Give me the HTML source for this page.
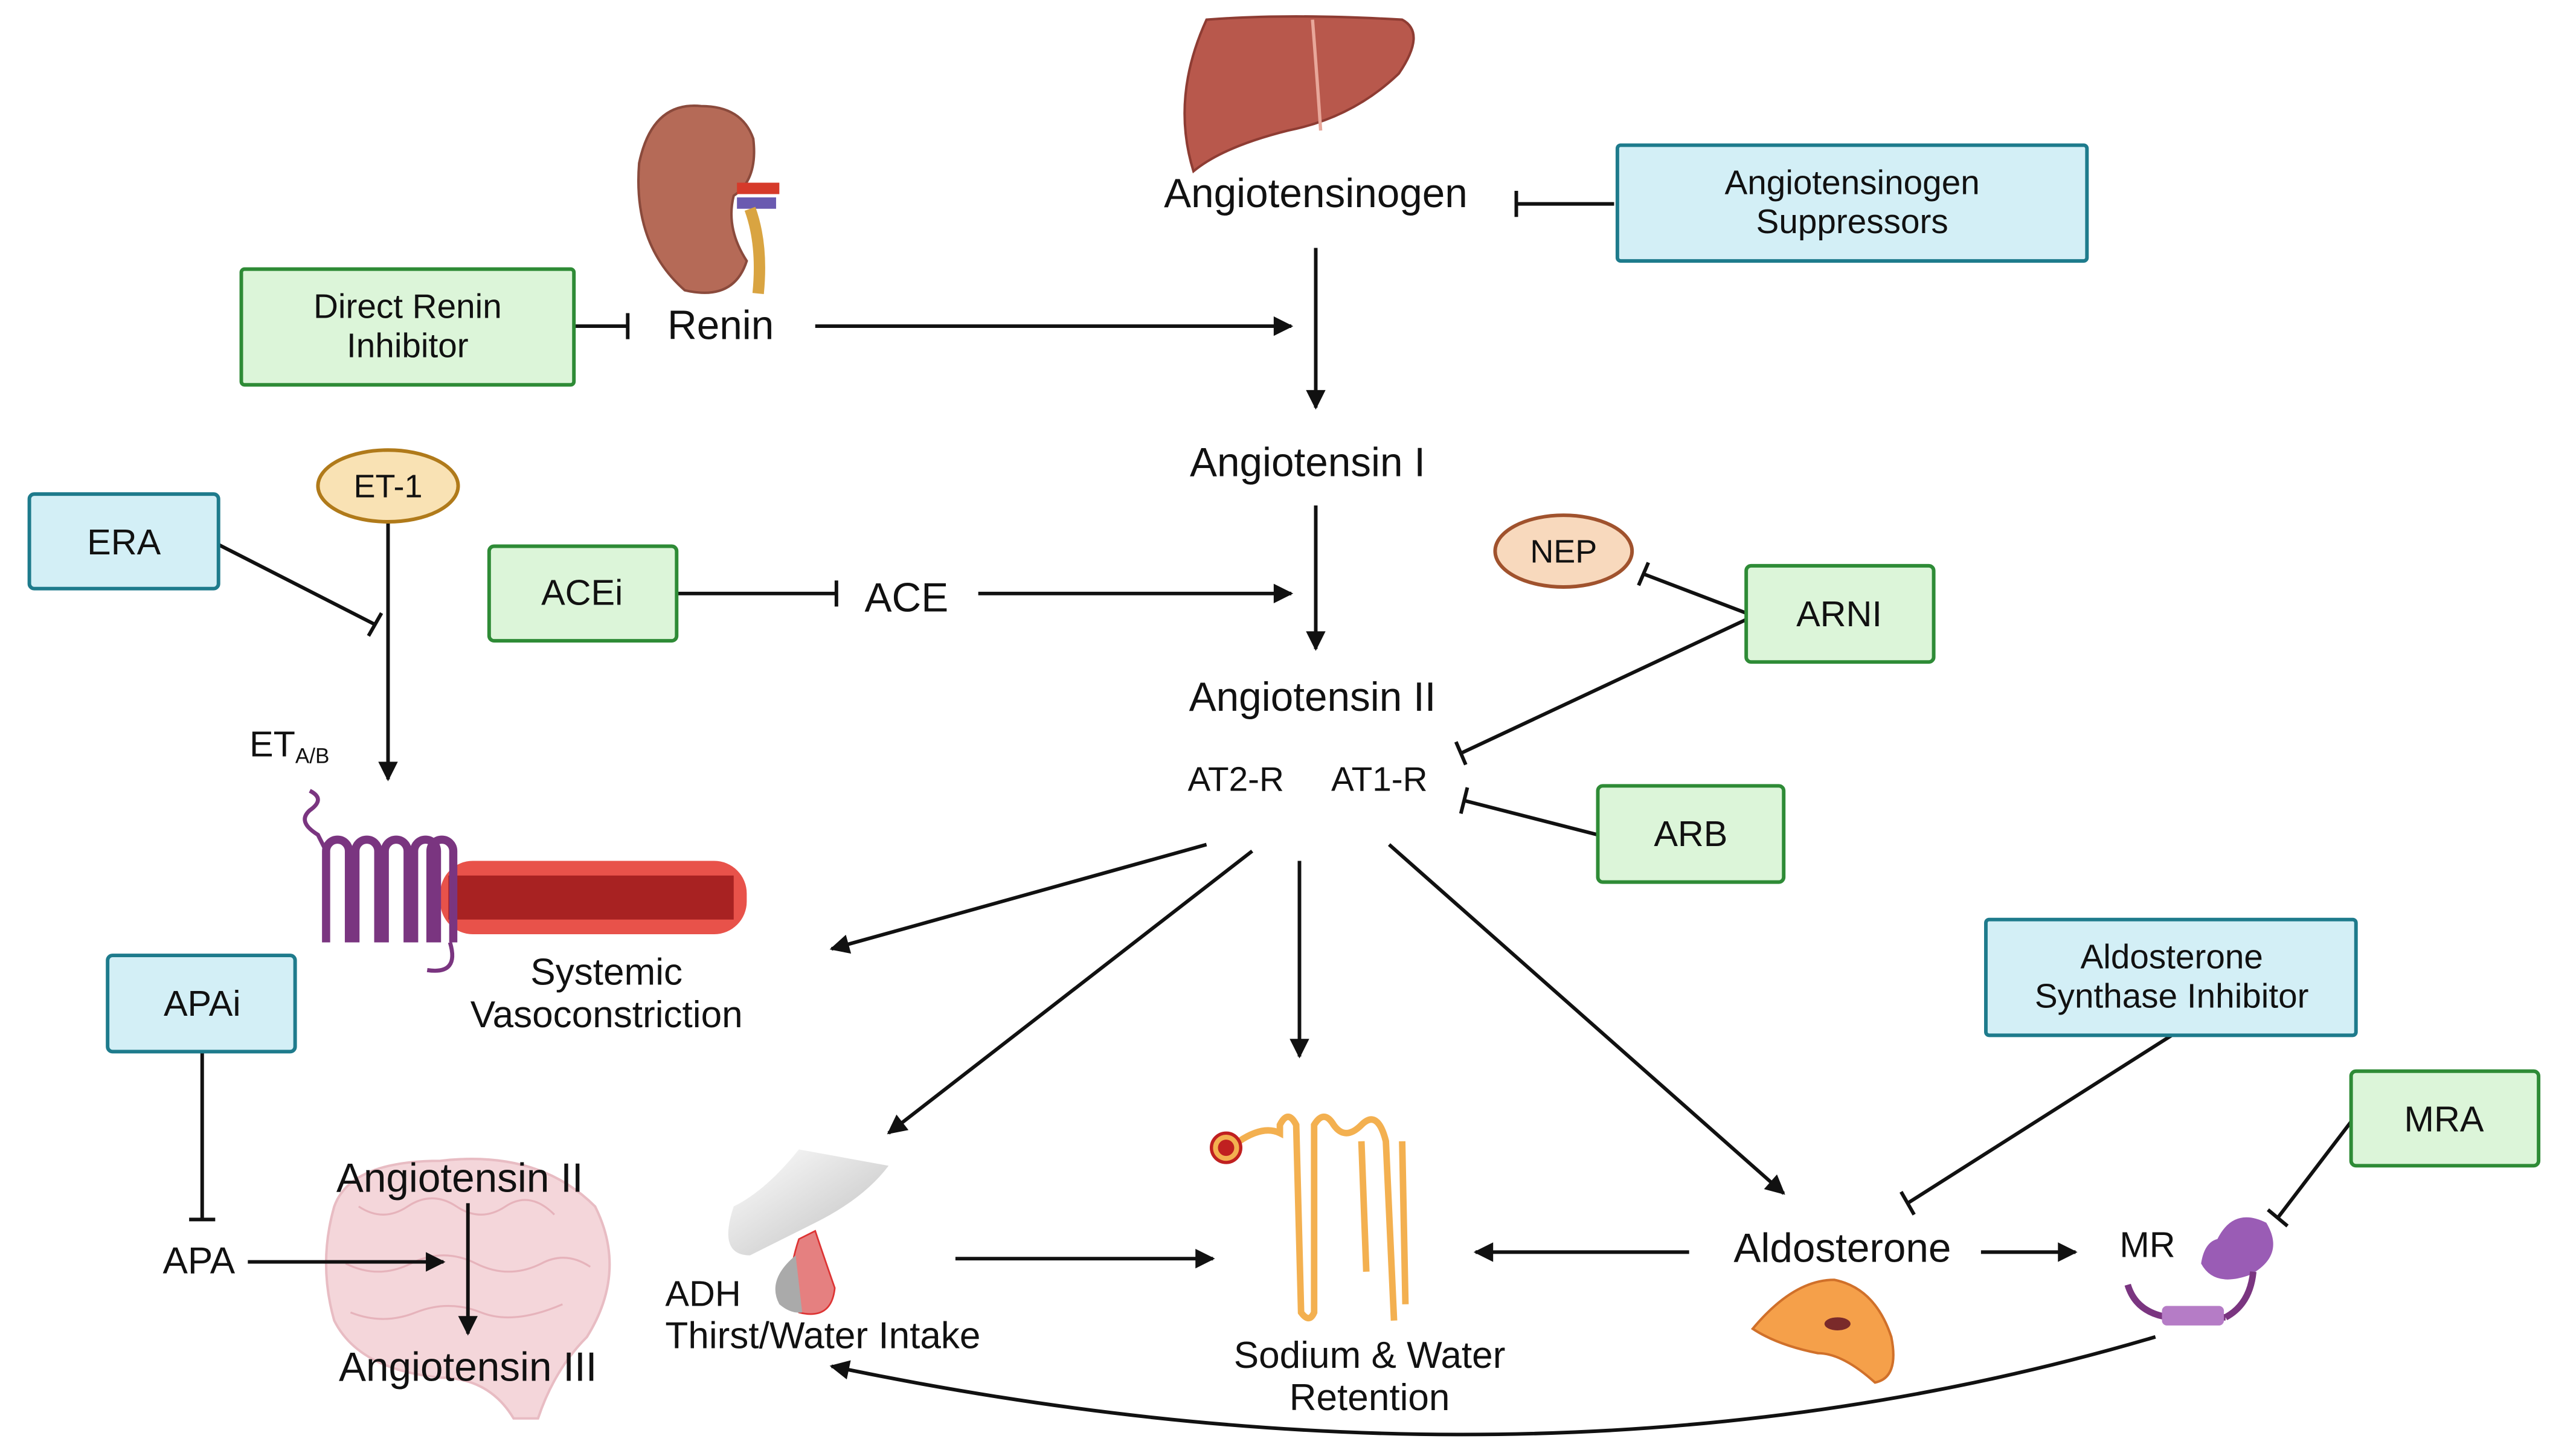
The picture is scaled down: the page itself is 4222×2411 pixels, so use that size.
<!DOCTYPE html>
<html><head><meta charset="utf-8"><style>
html,body{margin:0;padding:0;background:#fff;}
svg{display:block;}
text{font-family:"Liberation Sans",sans-serif;fill:#111;}
</style></head><body>
<svg width="4222" height="2411" viewBox="0 0 1564 893" xmlns="http://www.w3.org/2000/svg">
<defs>
<marker id="a" viewBox="0 0 10 10" refX="9" refY="5" markerWidth="13" markerHeight="12" orient="auto" markerUnits="userSpaceOnUse">
<path d="M0,0 L10,5 L0,10 z" fill="#111"/>
</marker>
<linearGradient id="gr" x1="0" y1="0" x2="1" y2="1"><stop offset="0" stop-color="#fff"/><stop offset="1" stop-color="#bdbdbd"/></linearGradient>
</defs>
<path d="M205,740 Q215,712 270,712 Q330,705 365,740 Q385,780 360,820 Q340,840 330,870 L315,870 Q300,845 270,845 Q220,840 205,810 Q195,775 205,740z" fill="#f4d6da" stroke="#e8bcc3" stroke-width="1.5"/>
<g fill="none" stroke="#e6b3bb" stroke-width="1.2">
<path d="M220,740 q15,10 30,0 q15,-10 30,0 q15,10 30,0 q15,-10 30,5"/>
<path d="M212,775 q20,10 40,0 q20,-10 40,0 q20,10 40,0 q15,-8 30,2"/>
<path d="M215,805 q20,8 40,0 q20,-8 40,0 q20,8 50,-5"/>
</g>
<g stroke="#111" stroke-width="2.2" fill="none">
<line x1="500" y1="200" x2="792" y2="200" marker-end="url(#a)"/>
<line x1="807" y1="152" x2="807" y2="250" marker-end="url(#a)"/>
<line x1="807" y1="310" x2="807" y2="398" marker-end="url(#a)"/>
<line x1="600" y1="364" x2="792" y2="364" marker-end="url(#a)"/>
<line x1="238" y1="320" x2="238" y2="478" marker-end="url(#a)"/>
<line x1="740" y1="518" x2="510" y2="582" marker-end="url(#a)"/>
<line x1="768" y1="522" x2="545" y2="695" marker-end="url(#a)"/>
<line x1="797" y1="528" x2="797" y2="648" marker-end="url(#a)"/>
<line x1="852" y1="518" x2="1094" y2="732" marker-end="url(#a)"/>
<line x1="152" y1="774" x2="272" y2="774" marker-end="url(#a)"/>
<line x1="287" y1="738" x2="287" y2="818" marker-end="url(#a)"/>
<line x1="586" y1="772" x2="744" y2="772" marker-end="url(#a)"/>
<line x1="1036" y1="768" x2="905" y2="768" marker-end="url(#a)"/>
<line x1="1215" y1="768" x2="1273" y2="768" marker-end="url(#a)"/>
<path d="M1322,820 Q950,930 510,838" marker-end="url(#a)"/>
<line x1="990" y1="125" x2="930" y2="125"/><line x1="930" y1="117" x2="930" y2="133"/>
<line x1="352" y1="200" x2="385" y2="200"/><line x1="385" y1="192" x2="385" y2="208"/>
<line x1="415" y1="364" x2="513" y2="364"/><line x1="513" y1="356" x2="513" y2="372"/>
<line x1="134" y1="334" x2="230" y2="383"/><line x1="226" y1="390" x2="234" y2="376"/>
<line x1="1071" y1="376" x2="1008" y2="352"/><line x1="1005" y1="359" x2="1011" y2="345"/>
<line x1="1071" y1="380" x2="896" y2="462"/><line x1="893" y1="455" x2="899" y2="469"/>
<line x1="980" y1="512" x2="898" y2="491"/><line x1="896" y1="499" x2="900" y2="483"/>
<line x1="124" y1="645" x2="124" y2="748"/><line x1="116" y1="748" x2="132" y2="748"/>
<line x1="1332" y1="635" x2="1170" y2="738"/><line x1="1166" y1="731" x2="1174" y2="745"/>
<line x1="1442" y1="688" x2="1397" y2="747"/><line x1="1391" y1="742" x2="1403" y2="752"/>
</g>
<g stroke-width="2.2">
<rect x="992" y="89" width="288" height="71" rx="2" fill="#d3eff6" stroke="#1e7b8c"/>
<rect x="148" y="165" width="204" height="71" rx="2" fill="#dcf5d9" stroke="#2e8b36"/>
<rect x="300" y="335" width="115" height="58" rx="3" fill="#dcf5d9" stroke="#2e8b36"/>
<rect x="1071" y="347" width="115" height="59" rx="3" fill="#dcf5d9" stroke="#2e8b36"/>
<rect x="980" y="482" width="114" height="59" rx="3" fill="#dcf5d9" stroke="#2e8b36"/>
<rect x="18" y="303" width="116" height="58" rx="3" fill="#d3eff6" stroke="#1e7b8c"/>
<rect x="66" y="586" width="115" height="59" rx="3" fill="#d3eff6" stroke="#1e7b8c"/>
<rect x="1218" y="564" width="227" height="71" rx="2" fill="#d3eff6" stroke="#1e7b8c"/>
<rect x="1442" y="657" width="115" height="58" rx="3" fill="#dcf5d9" stroke="#2e8b36"/>
<ellipse cx="959" cy="338" rx="42" ry="22" fill="#f8d9bd" stroke="#a0522d"/>
<ellipse cx="238" cy="298" rx="43" ry="22" fill="#f9e2b4" stroke="#b07a1a"/>
</g>
<path d="M740,12 Q790,8 860,12 Q875,20 858,45 Q830,72 790,80 Q750,90 732,105 Q718,60 740,12z" fill="#b8584c" stroke="#8e3c33" stroke-width="1.5"/>
<path d="M805,12 Q808,50 810,80" stroke="#e8a79a" stroke-width="2" fill="none"/>
<path d="M430,65 Q400,62 392,100 Q388,150 420,178 Q450,185 458,160 Q445,140 450,120 Q465,110 462,85 Q455,65 430,65z" fill="#b56a57" stroke="#8a4a3c" stroke-width="1.5"/>
<rect x="452" y="112" width="26" height="7" fill="#d63a2a"/><rect x="452" y="121" width="24" height="7" fill="#6a5ab0"/>
<path d="M460,128 Q468,150 465,180" stroke="#d9a441" stroke-width="7" fill="none"/>
<rect x="270" y="528" width="188" height="45" rx="20" fill="#e8524a"/>
<rect x="275" y="537" width="175" height="27" fill="#a82222"/>
<path d="M200,578 V522 a7,7 0 0 1 14,0 V578 M218,578 V522 a7,7 0 0 1 14,0 V578 M236,578 V522 a7,7 0 0 1 14,0 V578 M254,578 V522 a7,7 0 0 1 14,0 V578 M264,578 V522 a7,7 0 0 1 14,0 V578" stroke="#7a3580" stroke-width="5" fill="none"/>
<path d="M190,485 q10,5 0,12 q-8,7 5,15 L200,522" stroke="#7a3580" stroke-width="2.5" fill="none"/>
<path d="M276,578 Q282,598 262,595" stroke="#7a3580" stroke-width="2.5" fill="none"/>
<path d="M490,705 Q470,730 450,740 Q440,770 460,770 Q480,760 500,750 Q530,735 545,715 Z" fill="url(#gr)"/>
<path d="M490,760 Q480,790 490,805 Q510,810 512,790 Q505,770 500,755z" fill="#e58080" stroke="#d33" stroke-width="1"/>
<path d="M488,770 Q470,785 478,800 Q485,806 492,805" fill="#aaa"/>
<g fill="none" stroke="#f3b050" stroke-width="4">
<path d="M760,700 Q775,690 785,695 L785,690 Q790,680 795,690 L798,805 Q803,812 806,805 L806,690 Q812,680 818,690 Q825,700 835,690 Q845,680 850,700 L855,810"/>
<path d="M835,700 L838,780 M860,700 L862,800"/>
</g>
<circle cx="752" cy="704" r="9" fill="#f3b050" stroke="#c02020" stroke-width="2"/>
<circle cx="752" cy="704" r="5" fill="#c02020"/>
<path d="M1075,815 Q1100,785 1125,785 Q1150,790 1160,820 Q1165,845 1150,848 Q1130,830 1115,830 Q1090,825 1075,815z" fill="#f5a04a" stroke="#d0702a" stroke-width="1.5"/>
<ellipse cx="1127" cy="812" rx="8" ry="4" fill="#7a2a2a"/>
<path d="M1305,788 Q1310,805 1330,808 L1365,808" stroke="#7a3580" stroke-width="4" fill="none"/>
<rect x="1326" y="801" width="38" height="12" rx="3" fill="#b57cc6"/>
<path d="M1360,760 Q1370,740 1390,750 Q1402,770 1380,782 Q1358,790 1350,775 Q1352,762 1360,760z" fill="#9a5cb5"/>
<path d="M1382,780 Q1380,800 1365,808" stroke="#7a3580" stroke-width="4" fill="none"/>
<g text-anchor="middle" font-size="25">
<text x="807" y="127">Angiotensinogen</text>
<text x="442" y="208">Renin</text>
<text x="802" y="292">Angiotensin I</text>
<text x="556" y="375">ACE</text>
<text x="805" y="436">Angiotensin II</text>
<text x="1130" y="774">Aldosterone</text>
<text x="282" y="731">Angiotensin II</text>
<text x="287" y="847">Angiotensin III</text>
</g>
<g text-anchor="middle" font-size="21">
<text x="1136" y="119">Angiotensinogen</text><text x="1136" y="143">Suppressors</text>
<text x="250" y="195">Direct Renin</text><text x="250" y="219">Inhibitor</text>
<text x="1332" y="594">Aldosterone</text><text x="1332" y="618">Synthase Inhibitor</text>
<text x="758" y="485">AT2-R</text><text x="846" y="485">AT1-R</text>
<text x="959" y="345" font-size="20">NEP</text>
<text x="238" y="305" font-size="20">ET-1</text>
</g>
<g text-anchor="middle" font-size="23">
<text x="372" y="604">Systemic</text><text x="372" y="630">Vasoconstriction</text>
<text x="840" y="839">Sodium &amp; Water</text><text x="840" y="865">Retention</text>
<text x="122" y="781">APA</text>
</g>
<g text-anchor="middle" font-size="22">
<text x="357" y="371">ACEi</text>
<text x="1128" y="384">ARNI</text>
<text x="1037" y="519">ARB</text>
<text x="76" y="340">ERA</text>
<text x="124" y="623">APAi</text>
<text x="1499" y="694">MRA</text>
</g>
<g font-size="22">
<text x="408" y="801">ADH</text>
<text x="408" y="827" font-size="23">Thirst/Water Intake</text>
<text x="1300" y="771">MR</text>
<text x="153" y="464">ET<tspan font-size="13" dy="4">A/B</tspan></text>
</g>
</svg>
</body></html>
